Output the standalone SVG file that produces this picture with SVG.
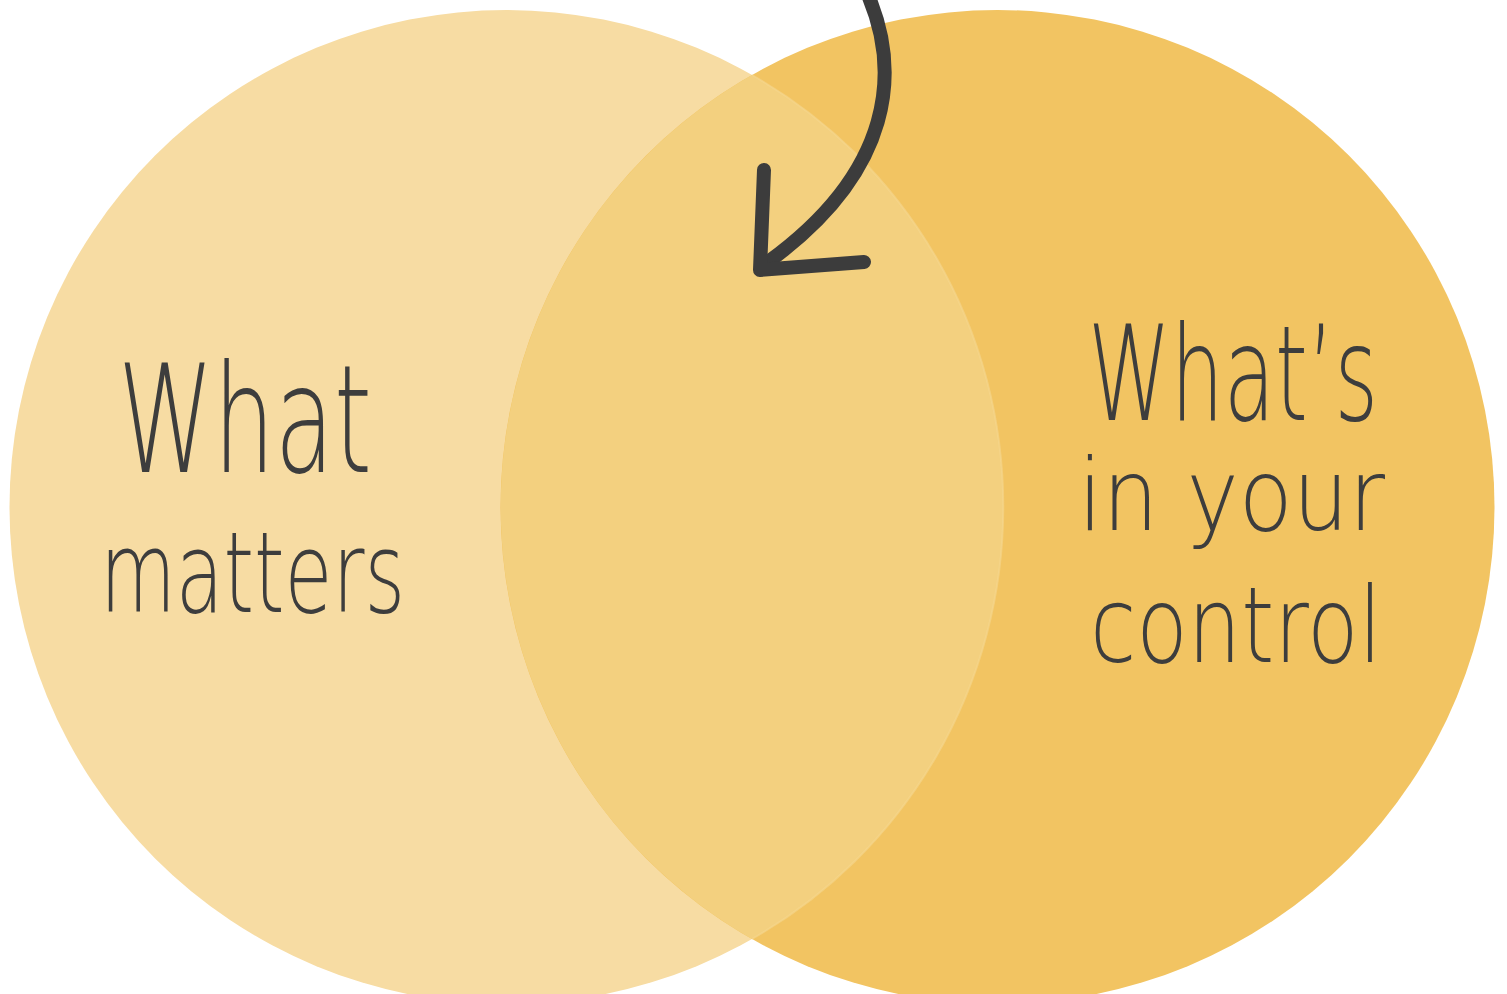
<svg xmlns="http://www.w3.org/2000/svg" width="1507" height="994" viewBox="0 0 1507 994">
<style>
.lbl{font-family:"DejaVu Sans","Liberation Sans",sans-serif;font-weight:200;fill:#3d3d3d}
.ink{fill:none;stroke:#3c3c3c;stroke-width:14;stroke-linecap:round;stroke-linejoin:round}
</style>
<rect width="1507" height="994" fill="#ffffff"/>
<g id="matters">
<circle cx="506.5" cy="507" r="497" fill="#f7dca3"/>
</g>
<g id="control">
<circle cx="997.5" cy="507" r="497" fill="#f2c462"/>
</g>
<g id="overlap">
<path d="M752 75 A497 497 0 0 1 752 939 A497 497 0 0 1 752 75 Z" fill="#f3d07f"/>
<path d="M752 75 A497 497 0 0 1 752 939" fill="none" stroke="#f5d790" stroke-width="2" opacity="0.6"/>
</g>
<g id="labels">
<text class="lbl" x="118" y="472" font-size="150" textLength="254" lengthAdjust="spacingAndGlyphs">What</text>
<text class="lbl" x="100" y="612" font-size="112" textLength="305" lengthAdjust="spacingAndGlyphs">matters</text>
<text class="lbl" x="1088" y="420" font-size="132" textLength="290" lengthAdjust="spacingAndGlyphs">What’s</text>
<text class="lbl" x="1078" y="530" font-size="100" textLength="307" lengthAdjust="spacingAndGlyphs">in your</text>
<text class="lbl" x="1090" y="662" font-size="106" textLength="292" lengthAdjust="spacingAndGlyphs">control</text>
</g>
<g id="connectors">
<path class="ink" d="M868 -5 C900 70 895 170 768 262"/>
<path class="ink" d="M764 170 L760 270 L864 262"/>
</g>
</svg>
